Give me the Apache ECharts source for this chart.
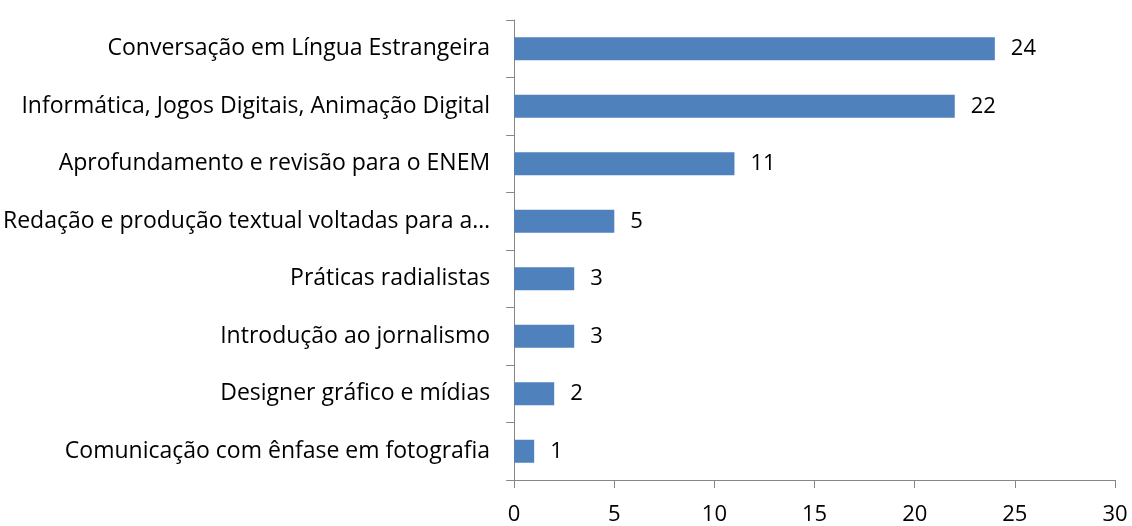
<!DOCTYPE html>
<html>
<head>
<meta charset="utf-8">
<script src="https://cdn.jsdelivr.net/npm/echarts@6/dist/echarts.min.js"></script>
<style>
  html, body { margin: 0; padding: 0; background: #fff; }
  #chart { width: 1132px; height: 526px; }
</style>
</head>
<body>
<div id="chart"></div>
<script>
let categories = [
  'Conversação em Língua Estrangeira',
  'Informática, Jogos Digitais, Animação Digital',
  'Aprofundamento e revisão para o ENEM',
  'Redação e produção textual voltadas para a…',
  'Práticas radialistas',
  'Introdução ao jornalismo',
  'Designer gráfico e mídias',
  'Comunicação com ênfase em fotografia'
]
let values = [24, 22, 11, 5, 3, 3, 2, 1]
let xTicks = [0, 5, 10, 15, 20, 25, 30]

let font = 'Open Sans'
let axisColor = '#868686'

var chart = echarts.init(document.getElementById('chart'))

let option = {
  animation: false,
  grid: {
    left: 514,
    right: 17,
    top: 20,
    bottom: 44,
    containLabel: false
  },
  xAxis: {
    type: 'value',
    min: xTicks[0],
    max: xTicks[xTicks.length - 1],
    interval: 5,
    axisLine: { show: true, lineStyle: { color: axisColor, width: 1 } },
    axisTick: { show: true, length: 8, lineStyle: { color: axisColor } },
    splitLine: { show: false },
    axisLabel: { color: '#000', fontFamily: font, fontSize: 22, margin: 24 }
  },
  yAxis: {
    type: 'category',
    inverse: true,
    data: categories,
    axisLine: { show: true, lineStyle: { color: axisColor, width: 1 } },
    axisTick: { show: true, length: 8, lineStyle: { color: axisColor } },
    axisLabel: { color: '#000', fontFamily: font, fontSize: 23, margin: 24 }
  },
  series: [{
    type: 'bar',
    data: values,
    barWidth: 23,
    itemStyle: { color: '#4f81bd' },
    label: {
      show: true,
      position: 'right',
      distance: 16,
      color: '#000',
      fontFamily: font,
      fontSize: 22
    }
  }]
}
chart.setOption(option)
</script>
</body>
</html>
